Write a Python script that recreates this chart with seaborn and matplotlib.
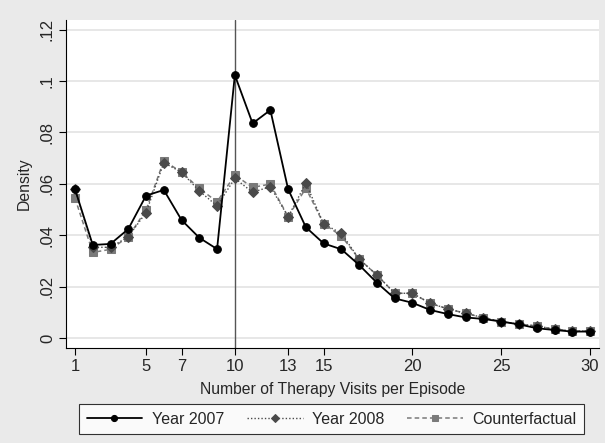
import numpy as np
import pandas as pd
import matplotlib
matplotlib.use("Agg")
import matplotlib.pyplot as plt
import seaborn as sns

visits = list(range(1, 31))
year2007 = [0.0579, 0.0362, 0.0366, 0.0424, 0.0554, 0.0576, 0.0459, 0.0390, 0.0346, 0.1023,
            0.0835, 0.0887, 0.0579, 0.0431, 0.0368, 0.0345, 0.0284, 0.0215, 0.0154, 0.0137,
            0.0109, 0.0093, 0.0080, 0.0074, 0.0064, 0.0053, 0.0038, 0.0031, 0.0025, 0.0025]
year2008 = [0.0580, 0.0353, 0.0353, 0.0394, 0.0488, 0.0682, 0.0645, 0.0572, 0.0514, 0.0621,
            0.0567, 0.0589, 0.0472, 0.0602, 0.0444, 0.0407, 0.0307, 0.0245, 0.0174, 0.0174,
            0.0135, 0.0113, 0.0096, 0.0079, 0.0064, 0.0054, 0.0047, 0.0034, 0.0027, 0.0027]
counterfactual = [0.0544, 0.0333, 0.0345, 0.0394, 0.0498, 0.0690, 0.0645, 0.0582, 0.0530, 0.0634,
                  0.0586, 0.0599, 0.0472, 0.0583, 0.0444, 0.0397, 0.0307, 0.0245, 0.0174, 0.0174,
                  0.0135, 0.0113, 0.0096, 0.0079, 0.0064, 0.0054, 0.0047, 0.0034, 0.0027, 0.0027]
xticks = [1, 5, 7, 10, 13, 15, 20, 25, 30]
yticks = [0, 0.02, 0.04, 0.06, 0.08, 0.10, 0.12]
ytick_labels = ["0", ".02", ".04", ".06", ".08", ".1", ".12"]
labels = ["Year 2007", "Year 2008", "Counterfactual"]

sns.set_style("white")
plt.rcParams["font.family"] = ["Liberation Sans", "DejaVu Sans"]

bg = "#EAEAEA"
fig = plt.figure(figsize=(6.05, 4.43), dpi=100, facecolor=bg)
ax = fig.add_axes([66 / 605, 1 - 348 / 443, (599 - 66) / 605, (348 - 20) / 443])
ax.set_facecolor("white")

df = pd.DataFrame({"visits": visits, "y2007": year2007, "y2008": year2008, "cf": counterfactual})

sns.lineplot(data=df, x="visits", y="cf", ax=ax, color="#7a7a7a", linestyle=(0, (3, 2)),
             linewidth=1.1, marker="s", markersize=5.5, markeredgecolor="#7a7a7a",
             label=labels[2], zorder=3)
sns.lineplot(data=df, x="visits", y="y2008", ax=ax, color="#4a4a4a", linestyle=(0, (1, 1.5)),
             linewidth=1.0, marker="D", markersize=5, markeredgecolor="#4a4a4a",
             label=labels[1], zorder=4)
sns.lineplot(data=df, x="visits", y="y2007", ax=ax, color="black", linestyle="-",
             linewidth=1.3, marker="o", markersize=5.5, markeredgecolor="black",
             label=labels[0], zorder=5)

ax.axvline(10, color="#555555", linewidth=1.0, zorder=2)

ax.set_xlim(1 + (66 - 75) / 17.76, 1 + (599 - 75) / 17.76)
ax.set_ylim(-(348 - 338) / 51.4 * 0.02, (338 - 20) / 51.4 * 0.02)

ax.set_yticks(yticks)
ax.set_yticklabels(ytick_labels, rotation=90, va="center")
ax.set_xticks(xticks)
ax.set_xticklabels([str(t) for t in xticks])
ax.tick_params(axis="both", labelsize=12, length=5, width=0.8, color="black",
               direction="out", left=True, bottom=True, pad=3)
ax.yaxis.grid(True, color="#e3e3e3", linewidth=1.2)
ax.xaxis.grid(False)

for s in ["top", "right"]:
    ax.spines[s].set_visible(False)
for s in ["left", "bottom"]:
    ax.spines[s].set_color("black")
    ax.spines[s].set_linewidth(0.8)

ax.set_xlabel("Number of Therapy Visits per Episode", fontsize=11.3, labelpad=6)
ax.set_ylabel("Density", fontsize=11.3, labelpad=6)

handles, labs = ax.get_legend_handles_labels()
order = [labs.index(l) for l in labels]
leg = fig.legend([handles[i] for i in order], [labs[i] for i in order],
                 loc="center", bbox_to_anchor=(331.5 / 605, 1 - 419 / 443), ncol=3,
                 frameon=True, fancybox=False, edgecolor="black", facecolor="white",
                 fontsize=11.5, handlelength=3.5, columnspacing=1.4, handletextpad=0.6,
                 borderpad=0.45, numpoints=1, markerscale=0.8)
leg.get_frame().set_linewidth(0.8)
if ax.get_legend():
    ax.get_legend().remove()

fig.savefig("out.png", dpi=100, facecolor=bg)
